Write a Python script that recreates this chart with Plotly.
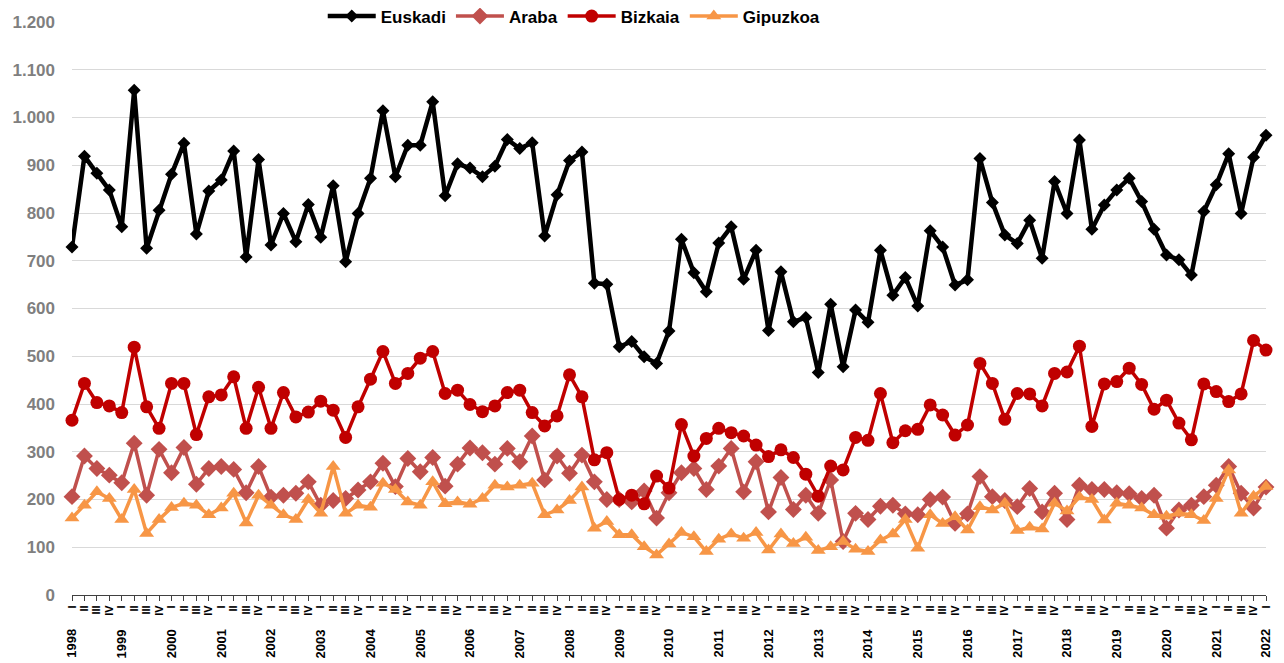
import plotly.graph_objects as go

years = list(range(1998, 2023))
quarters = ["I", "II", "III", "IV"]

euskadi = [729, 919, 883, 848, 771, 1057, 726, 806, 881, 946, 756, 846, 869, 930, 708, 912, 733,
           799, 740, 818, 749, 857, 698, 799, 873, 1014, 876, 942, 942, 1033, 836, 903, 894,
           876, 898, 954, 935, 947, 752, 838, 910, 928, 653, 651, 520, 531, 499, 485, 553,
           745, 675, 635, 737, 771, 661, 722, 554, 677, 572, 581, 466, 609, 478, 597, 571,
           722, 628, 665, 605, 763, 729, 649, 660, 914, 822, 754, 736, 785, 705, 866, 799,
           953, 766, 817, 848, 873, 824, 766, 712, 702, 670, 803, 859, 924, 799, 917, 963]

araba = [206, 291, 265, 251, 235, 318, 209, 305, 256, 309, 232, 265, 269, 263, 214, 269, 205,
         209, 213, 237, 188, 198, 202, 220, 237, 276, 227, 286, 258, 288, 228, 274, 308,
         298, 274, 307, 279, 333, 241, 291, 255, 293, 237, 200, 200, 195, 218, 161, 214,
         256, 265, 221, 270, 307, 216, 279, 174, 246, 179, 209, 171, 241, 112, 171, 158,
         186, 188, 170, 168, 200, 205, 150, 170, 248, 206, 198, 185, 223, 174, 213, 158,
         230, 221, 221, 214, 212, 202, 209, 140, 178, 188, 206, 230, 269, 213, 182, 226]

bizkaia = [366, 443, 403, 396, 382, 519, 394, 349, 443, 443, 336, 415, 419, 457, 349, 435, 349,
           424, 373, 383, 406, 387, 330, 394, 452, 510, 443, 464, 496, 510, 422, 429, 399,
           384, 396, 424, 429, 382, 354, 375, 461, 415, 283, 298, 200, 209, 191, 249, 224,
           357, 291, 328, 349, 340, 333, 314, 290, 304, 288, 253, 207, 270, 262, 330, 324,
           422, 319, 344, 347, 398, 377, 335, 356, 485, 443, 368, 422, 421, 396, 464, 467,
           521, 353, 442, 447, 475, 441, 389, 408, 360, 325, 442, 426, 405, 421, 533, 513]

gipuzkoa = [161, 188, 216, 202, 158, 221, 129, 158, 183, 192, 188, 168, 182, 213, 151, 209, 188,
            168, 158, 200, 171, 269, 171, 188, 184, 234, 221, 195, 188, 237, 191, 195, 190,
            202, 230, 226, 230, 234, 168, 178, 198, 226, 140, 154, 126, 126, 101, 84, 107,
            131, 122, 91, 117, 128, 119, 131, 94, 128, 108, 121, 93, 101, 112, 96, 91,
            115, 128, 158, 98, 168, 150, 164, 136, 185, 178, 192, 135, 142, 138, 192, 176,
            205, 200, 157, 192, 188, 182, 168, 165, 171, 168, 156, 202, 262, 171, 207, 227]

periods = [f"{y} {q}" for y in years for q in quarters][:len(euskadi)]
qlabels = [p.split(" ")[1] for p in periods]

FONT = "Liberation Sans, Arial, sans-serif"

fig = go.Figure()
series = [
    ("Euskadi", euskadi, "#000000", 4.5, "diamond", 10),
    ("Araba", araba, "#c0504d", 3.5, "diamond", 13),
    ("Bizkaia", bizkaia, "#c00000", 3.5, "circle", 13),
    ("Gipuzkoa", gipuzkoa, "#f79646", 3.5, "triangle-up", 13),
]
for name, vals, color, lw, sym, ms in series:
    fig.add_trace(go.Scatter(
        x=periods, y=vals, name=name, mode="lines+markers",
        line=dict(color=color, width=lw),
        marker=dict(symbol=sym, size=ms, color=color, line=dict(width=0)),
        cliponaxis=False,
    ))

for p in periods:
    y, q = p.split(" ")
    if q == "I":
        fig.add_annotation(x=p, y=-0.085, xref="x", yref="paper", text=y,
                           textangle=-90, showarrow=False, yanchor="middle",
                           font=dict(family=FONT, size=13, color="#000000", weight="bold"))

# page body has an 8px margin, so the figure is offset by 8px right/down
fig.update_layout(
    width=1284, height=663,
    margin=dict(l=64, r=26, t=14, b=76, autoexpand=False),
    paper_bgcolor="white", plot_bgcolor="white",
    separators=",.",
    showlegend=True,
    legend=dict(orientation="h", x=0.21, xanchor="left", y=1.0096, yanchor="middle",
                font=dict(family=FONT, size=17, color="#000000", weight="bold"),
                bgcolor="rgba(0,0,0,0)", itemwidth=48, tracegroupgap=0),
    xaxis=dict(type="category", range=[0, len(periods) - 1], automargin=False,
               tickmode="array", tickvals=periods, ticktext=qlabels,
               tickangle=-90, ticks="outside", ticklen=5, tickcolor="#404040",
               showline=True, linecolor="#404040", linewidth=1,
               showgrid=False, zeroline=False,
               tickfont=dict(family=FONT, size=11, color="#000000", weight="bold")),
    yaxis=dict(range=[0, 1200], dtick=100, tickformat=",d", automargin=False,
               showgrid=True, gridcolor="#d9d9d9", gridwidth=1,
               zeroline=False, showline=False, ticks="", ticklabelstandoff=16,
               tickfont=dict(family=FONT, size=17, color="#7f7f7f", weight="bold")),
)

fig.write_html("out.html", config={"displayModeBar": False})
